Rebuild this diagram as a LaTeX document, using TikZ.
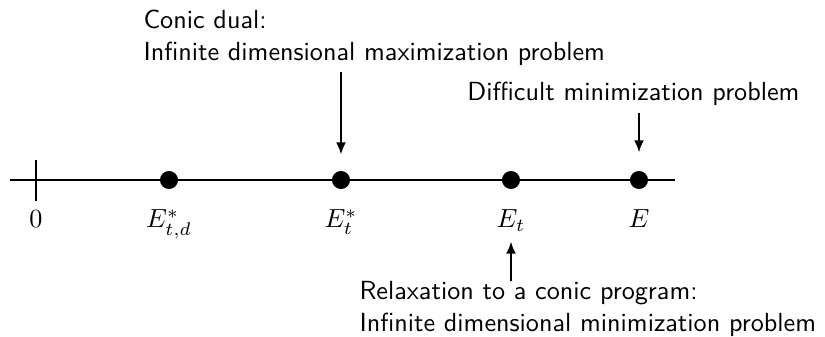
\documentclass[tikz,border=0pt]{standalone}
\usepackage{amsmath}
\usepackage{amssymb}
\usepackage{tikz}
\usetikzlibrary{arrows.meta, positioning}

\begin{document}
\begin{tikzpicture}[
  x=0.382pt, y=-0.382pt,
  dot/.style={circle, fill=black, inner sep=0pt, minimum size=6.9pt},
  lbl/.style={anchor=base, inner sep=0pt},
  txt/.style={align=left, inner sep=0pt, font=\sffamily},
  arrow/.style={-{Latex[length=4.6pt, width=3.8pt]}, thick}
]
  \useasboundingbox (0,0) rectangle (825,337);

  % real line with the origin tick
  \coordinate (left)  at (10,180);
  \coordinate (right) at (675,180);
  \coordinate (zero)  at (36,180);
  \draw[thick] (left) -- (right);
  \draw[thick] (zero) ++(0,-20) -- ++(0,41);

  \node[dot] (Etd) at (169,180) {};
  \node[dot] (Es)  at (341,180) {};
  \node[dot] (Et)  at (511,180) {};
  \node[dot] (E)   at (639,180) {};

  \node[lbl] (zerolbl) at (36,228)  {$0$};
  \node[lbl] (Etdlbl)  at (169,228) {$E^*_{t,d}$};
  \node[lbl] (Eslbl)   at (341,228) {$E^*_t$};
  \node[lbl] (Etlbl)   at (511,228) {$E_t$};
  \node[lbl] (Elbl)    at (639,228) {$E$};

  \node[txt, anchor=north west] (dual)  at (143,10)
        {Conic dual:\\Infinite dimensional maximization problem};
  \node[txt, anchor=base east]  (hard)  at (800,101)
        {Difficult minimization problem};
  \node[txt, anchor=south west] (relax) at (359,337)
        {Relaxation to a conic program:\\Infinite dimensional minimization problem};

  \draw[arrow, shorten <=2.3pt, shorten >=6.1pt] (dual.south -| Es) -- (Es.north);
  \draw[arrow, shorten <=2.3pt, shorten >=6.9pt] (hard.south -| E) -- (E.north);
  \draw[arrow, shorten <=0pt, shorten >=3.5pt] (relax.north -| Et) -- (Etlbl.south);
\end{tikzpicture}
\end{document}
